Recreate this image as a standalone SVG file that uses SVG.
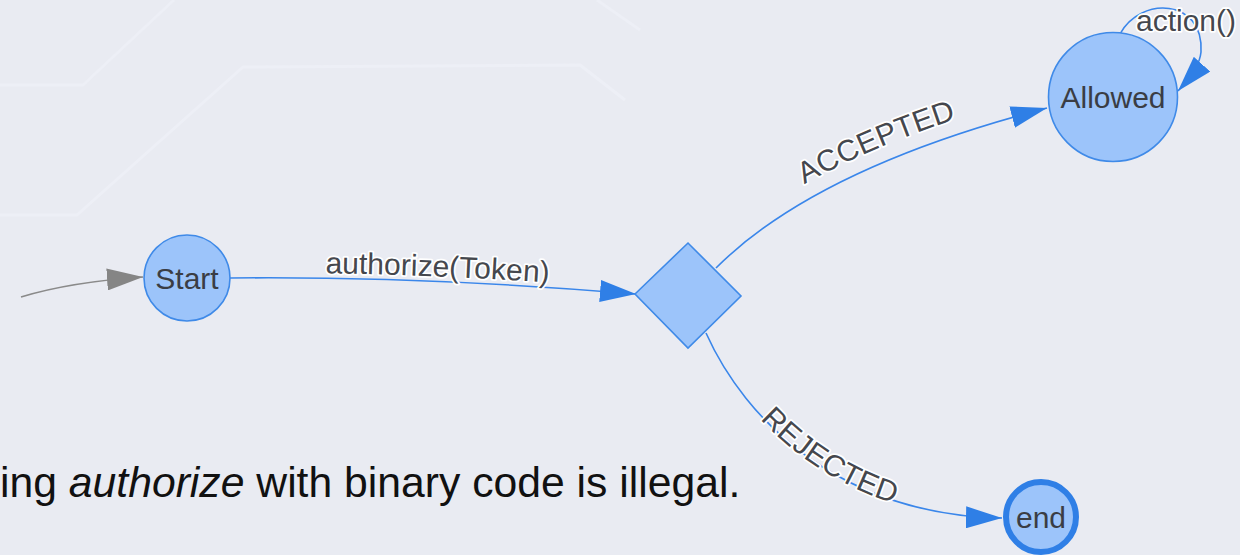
<svg xmlns="http://www.w3.org/2000/svg" xmlns:xlink="http://www.w3.org/1999/xlink" width="1240" height="555" viewBox="0 0 1240 555">
  <style>
    .bg { fill: #e9ebf2; }
    .trace { fill: none; stroke: #edeff6; stroke-width: 3; stroke-linejoin: round; }
    .state { fill: #9cc4fa; stroke: #3f8ae8; stroke-width: 1.6; }
    .final { fill: #9cc4fa; stroke: #2f7fe6; stroke-width: 6; }
    .node-label { font-family: "Liberation Sans", Arial, sans-serif; font-size: 30px; fill: #3a3d44; text-anchor: middle; dominant-baseline: central; }
    .edge { fill: none; stroke: #3a86ea; stroke-width: 1.6; marker-end: url(#arrow); }
    .edge-init { fill: none; stroke: #8a8a8a; stroke-width: 1.6; marker-end: url(#arrow-grey); }
    .edge-label { font-family: "Liberation Sans", Arial, sans-serif; font-size: 30px; fill: #45474d; stroke: #ffffff; stroke-width: 3.5; stroke-linejoin: round; paint-order: stroke; text-anchor: middle; }
    .note { font-family: "Liberation Sans", Arial, sans-serif; font-size: 42.7px; fill: #111111; }
  </style>
  <defs>
    <marker id="arrow" markerUnits="userSpaceOnUse" viewBox="0 0 36 22" refX="36" refY="11" markerWidth="36" markerHeight="22" orient="auto">
      <path d="M0,0 L36,11 L0,22 Z" fill="#2f7fe6"/>
    </marker>
    <marker id="arrow-grey" markerUnits="userSpaceOnUse" viewBox="0 0 36 22" refX="36" refY="11" markerWidth="36" markerHeight="22" orient="auto">
      <path d="M0,0 L36,11 L0,22 Z" fill="#858585"/>
    </marker>
  </defs>

  <!-- canvas with faint circuit traces -->
  <rect class="bg" x="0" y="0" width="1240" height="555"/>
  <g id="traces">
    <path class="trace" d="M0,85 L83,85 L174,0"/>
    <path class="trace" d="M0,215 L77,215 L243,67 L580,65 L625,100"/>
    <path class="trace" d="M597,0 L640,30"/>
  </g>

  <!-- transitions -->
  <g id="connectors">
    <path id="e-init" class="edge-init" d="M21,297 Q70,282 143,277"/>
    <path id="e-authorize" class="edge" d="M230,278 Q420,276 636,294"/>
    <path id="e-accepted" class="edge" d="M716,268 Q816,168 1047,108"/>
    <path id="e-rejected" class="edge" d="M706,333 C745,420 840,515 1002,518"/>
    <path id="e-action" class="edge" d="M1120,34 C1140,-4 1204,-2 1201,52 C1200,62 1195,72 1178,91"/>
  </g>

  <g id="edge-labels">
    <text class="edge-label" dy="-5"><textPath href="#e-authorize" startOffset="51%">authorize(Token)</textPath></text>
    <text class="edge-label" dy="-15"><textPath href="#e-accepted" startOffset="54%">ACCEPTED</textPath></text>
    <text class="edge-label" dy="3"><textPath href="#e-rejected" startOffset="49%">REJECTED</textPath></text>
    <text class="edge-label" x="1186" y="31">action()</text>
  </g>

  <!-- states -->
  <g id="node-start">
    <circle class="state" cx="187" cy="278" r="43"/>
    <text class="node-label" x="187" y="278">Start</text>
  </g>
  <g id="node-choice">
    <polygon class="state" points="635,294 688,243 741,296 688,348"/>
  </g>
  <g id="node-allowed">
    <circle class="state" cx="1113" cy="97" r="64.5"/>
    <text class="node-label" x="1113" y="97">Allowed</text>
  </g>
  <g id="node-end">
    <circle class="final" cx="1041" cy="517" r="35"/>
    <text class="node-label" x="1041" y="517">end</text>
  </g>

  <text class="note" x="0" y="497">ing <tspan font-style="italic">authorize</tspan> with binary code is illegal.</text>
</svg>
